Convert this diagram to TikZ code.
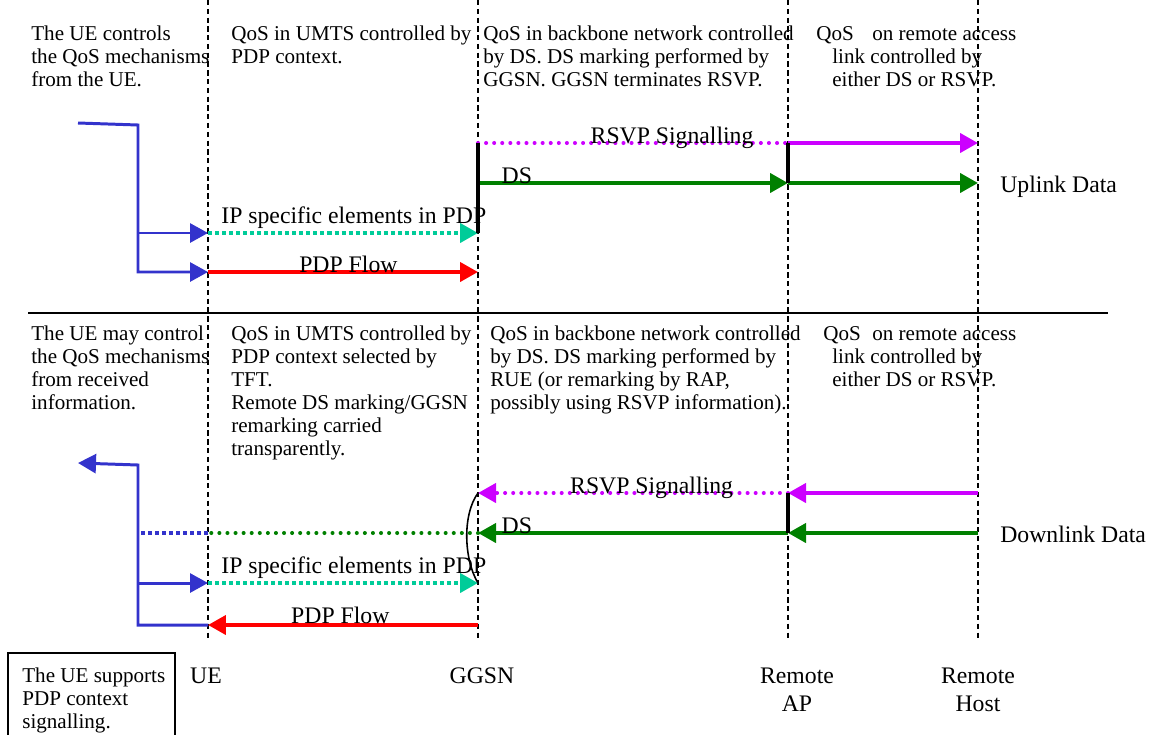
\documentclass[tikz,border=0pt]{standalone}
\usepackage{fontspec}
\setmainfont{Liberation Serif}
\usepackage{tikz}
\usetikzlibrary{arrows.meta,positioning,calc}
\definecolor{FlowBlue}{HTML}{3333CC}
\definecolor{IpTeal}{HTML}{00CC99}
\definecolor{PdpRed}{HTML}{FF0000}
\definecolor{RsvpPink}{HTML}{CC00FF}
\definecolor{DsGreen}{HTML}{008000}

\tikzset{
  lane/.style={line width=0.6pt, dash pattern=on 3pt off 2pt},
  note/.style={anchor=base west, align=left, inner sep=0pt},
  flowlabel/.style={font=\fontsize{13.5}{15.9}\selectfont, inner sep=0pt},
  fwd/.style={-{Triangle[length=0.36cm,width=0.38cm]}},
  bluelink/.style={draw=FlowBlue, line width=1.7pt},
  bluedots/.style={draw=FlowBlue, line width=2.3pt, dash pattern=on 2.3pt off 1.7pt},
  ipflow/.style={draw=IpTeal, line width=2.3pt, dash pattern=on 2.3pt off 1.7pt},
  pdpflow/.style={draw=PdpRed, line width=2.3pt},
  rsvpsig/.style={draw=RsvpPink, line width=2.3pt, line cap=round, dash pattern=on 0pt off 4.6pt},
  rsvpflow/.style={draw=RsvpPink, line width=2.3pt},
  dsflow/.style={draw=DsGreen, line width=2.3pt},
  dsdots/.style={draw=DsGreen, line width=2.3pt, line cap=round, dash pattern=on 0pt off 4.6pt},
  termbar/.style={draw=black, line width=2pt},
}

\begin{document}
\begin{tikzpicture}[x=0.02cm, y=-0.02cm, every node/.style={font=\fontsize{12}{13}\selectfont}]
  \useasboundingbox (0,0) rectangle (1150,734);

  % columns
  \coordinate (ue)    at (208,0);
  \coordinate (ggsn)  at (478,0);
  \coordinate (rap)   at (788,0);
  \coordinate (rhost) at (978,0);
  \coordinate (laneEnd) at (0,640);
  % rows
  \coordinate (rsvpU) at (0,143);
  \coordinate (dsU)   at (0,183);
  \coordinate (ipU)   at (0,233);
  \coordinate (pdpU)  at (0,272);
  \coordinate (rsvpD) at (0,493);
  \coordinate (dsD)   at (0,533);
  \coordinate (ipD)   at (0,583);
  \coordinate (pdpD)  at (0,625);
  % UE side
  \coordinate (ueSrcU) at (78,123);
  \coordinate (ueBusU) at (138,125);
  \coordinate (ueDstD) at (78,463);
  \coordinate (ueBusD) at (138,465);
  \coordinate (sepL) at (28,313);
  \coordinate (sepR) at (1108,313);

  \foreach \c in {ue,ggsn,rap,rhost}
    \draw[lane] (\c) -- (\c |- laneEnd);
  \draw[line width=0.6pt] (sepL) -- (sepR);

  % uplink (notes placed by their last baseline)
  \node[note] (upUE) at (31,86) {The UE controls\\the QoS mechanisms\\from the UE.};
  \node[note] (upUMTS) at (231,63) {QoS in UMTS controlled by\\PDP context.};
  \node[note] (upCore) at (483,86) {QoS in backbone network controlled\\by DS. DS marking performed by\\GGSN. GGSN terminates RSVP.};
  \node[note] (upRemote) at (816,86) {QoS\hspace*{0.37cm}on remote access\\\hspace*{0.32cm}link controlled by\\\hspace*{0.32cm}either DS or RSVP.};

  \draw[bluelink, fwd] (ueSrcU) -- (ueBusU) -- (ueBusU |- pdpU) -- (ue |- pdpU);
  \draw[bluelink, fwd] (ueBusU |- ipU) -- (ue |- ipU);
  \draw[ipflow, fwd] (ue |- ipU) -- (ggsn |- ipU)
    node[flowlabel, pos=0.54, anchor=base, yshift=0.2cm] (ipLblU) {IP specific elements in PDP};
  \draw[pdpflow, fwd] (ue |- pdpU) -- (ggsn |- pdpU)
    node[flowlabel, pos=0.52, anchor=base] (pdpLblU) {PDP Flow};
  \draw[rsvpsig] (ggsn |- rsvpU) -- (rap |- rsvpU)
    node[flowlabel, pos=0.626, anchor=base] (rsvpLblU) {RSVP Signalling};
  \draw[dsflow, fwd] (ggsn |- dsU) -- (rap |- dsU)
    node[flowlabel, pos=0.07, anchor=base west] (dsLblU) {DS};
  \draw[rsvpflow, fwd] (rap |- rsvpU) -- (rhost |- rsvpU);
  \draw[dsflow, fwd] (rap |- dsU) -- (rhost |- dsU);
  \draw[termbar] (ggsn |- rsvpU) -- (ggsn |- ipU);
  \draw[termbar] (rap |- rsvpU) -- (rap |- dsU);
  \node[flowlabel, anchor=base west] (upData) at (1000,192) {Uplink Data};

  % downlink
  \node[note] (dnUE) at (31,409) {The UE may control\\the QoS mechanisms\\from received\\information.};
  \node[note] (dnUMTS) at (231,455) {QoS in UMTS controlled by\\PDP context selected by\\TFT.\\Remote DS marking/GGSN\\remarking carried\\transparently.};
  \node[note] (dnCore) at (490,409) {QoS in backbone network controlled\\by DS. DS marking performed by\\RUE (or remarking by RAP,\\possibly using RSVP information).};
  \node[note] (dnRemote) at (823,386) {QoS\hspace*{0.23cm}on remote access\\\hspace*{0.18cm}link controlled by\\\hspace*{0.18cm}either DS or RSVP.};

  \draw[bluelink, fwd] (ue |- pdpD) -- (ueBusD |- pdpD) -- (ueBusD) -- (ueDstD);
  \draw[bluelink, fwd] (ueBusD |- ipD) -- (ue |- ipD);
  \draw[bluedots] (ue |- dsD) -- (ueBusD |- dsD);
  \draw[dsdots] (ggsn |- dsD) -- (ue |- dsD);
  \draw[ipflow, fwd] (ue |- ipD) -- (ggsn |- ipD)
    node[flowlabel, pos=0.54, anchor=base, yshift=0.2cm] (ipLblD) {IP specific elements in PDP};
  \draw[pdpflow, fwd] (ggsn |- pdpD) -- (ue |- pdpD)
    node[flowlabel, pos=0.51, anchor=base, yshift=1pt] (pdpLblD) {PDP Flow};
  \draw[rsvpsig, fwd] (rap |- rsvpD) -- (ggsn |- rsvpD)
    node[flowlabel, pos=0.44, anchor=base] (rsvpLblD) {RSVP Signalling};
  \draw[dsflow, fwd] (rap |- dsD) -- (ggsn |- dsD)
    node[flowlabel, pos=0.93, anchor=base west] (dsLblD) {DS};
  \draw[rsvpflow, fwd] (rhost |- rsvpD) -- (rap |- rsvpD);
  \draw[dsflow, fwd] (rhost |- dsD) -- (rap |- dsD);
  \draw[termbar] (rap |- rsvpD) -- (rap |- dsD);
  \draw[line width=0.9pt] (ggsn |- rsvpD) .. controls (462,515) and (464,560) .. (ggsn |- ipD);
  \node[flowlabel, anchor=base west] (dnData) at (1000,542) {Downlink Data};

  % column labels
  \node[flowlabel, anchor=base] (ueLbl) at (206,683) {UE};
  \node[flowlabel, anchor=base] (ggsnLbl) at (482,683) {GGSN};
  \node[flowlabel, anchor=base, align=center] (rapLbl) at (797,711) {Remote\\AP};
  \node[flowlabel, anchor=base, align=center] (rhostLbl) at (978,711) {Remote\\Host};

  \node[note] (ueSupport) at (22,728) {The UE supports\\PDP context\\signalling.};
  \draw[line width=0.6pt] (8,760) |- (175,653) -- (175,760);
\end{tikzpicture}
\end{document}
